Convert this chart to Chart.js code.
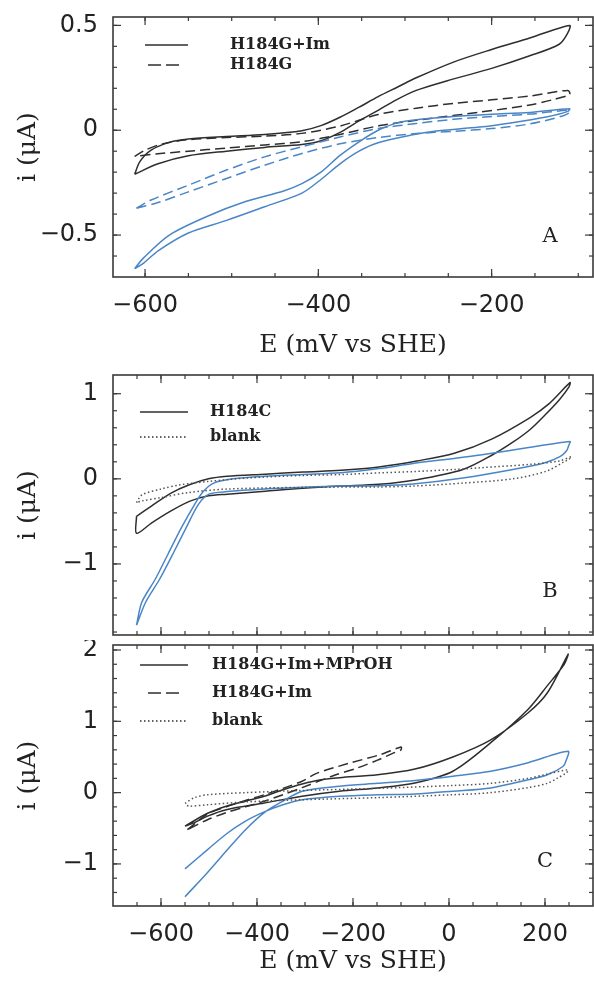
<!DOCTYPE html>
<html>
<head>
<meta charset="utf-8">
<script src="https://cdn.jsdelivr.net/npm/chart.js@4.4.1/dist/chart.umd.min.js"></script>
<style>
  body { margin: 0; background: #fff; }
  canvas { position: absolute; left: 0; }
</style>
</head>
<body>
<canvas id="chartA" width="594" height="360" style="top:0"></canvas>
<canvas id="chartB" width="594" height="280" style="top:360px"></canvas>
<canvas id="chartC" width="594" height="341" style="top:640px"></canvas>
<script>
// ---- tick labels ----
const xTicksA = [-600, -400, -200];
const yTicksA = [-0.5, 0, 0.5];
const xTicksBC = [-600, -400, -200, 0, 200];
const yTicksB = [-1, 0, 1];
const yTicksC = [-1, 0, 1, 2];

// ---- legend labels ----
const legendA = ['H184G+Im', 'H184G'];
const legendB = ['H184C', 'blank'];
const legendC = ['H184G+Im+MPrOH', 'H184G+Im', 'blank'];

// ---- panel A (E in mV, i in uA), each loop: forward scan then return ----
const aImE = [-612,-606,-593,-572,-550,-506,-462,-419,-397,-375,-353,-331,-309,-287,-244,-200,-156,-110,
  -112,-122,-156,-200,-252,-287,-310,-331,-353,-375,-397,-419,-462,-506,-550,-585,-612];
const aImI = [-0.21,-0.15,-0.095,-0.058,-0.042,-0.03,-0.02,-0.002,0.022,0.062,0.11,0.16,0.205,0.25,0.325,0.385,0.44,0.5,
  0.465,0.41,0.355,0.295,0.235,0.19,0.145,0.095,0.045,-0.01,-0.05,-0.068,-0.082,-0.1,-0.122,-0.16,-0.21];

const aGE = [-612,-600,-580,-550,-506,-462,-419,-375,-331,-287,-244,-200,-156,-112,
  -110,-130,-156,-214,-271,-329,-375,-419,-462,-506,-550,-585,-612];
const aGI = [-0.125,-0.095,-0.065,-0.045,-0.035,-0.028,-0.015,0.02,0.075,0.105,0.128,0.145,0.163,0.19,
  0.17,0.145,0.12,0.086,0.056,0.022,-0.02,-0.055,-0.07,-0.085,-0.1,-0.112,-0.125];

const aImBlueE = [-612,-602,-572,-528,-484,-440,-419,-397,-375,-353,-331,-309,-287,-244,-200,-156,-110,
  -112,-137,-178,-214,-266,-291,-331,-353,-375,-397,-419,-462,-506,-550,-585,-602,-612];
const aImBlueI = [-0.66,-0.61,-0.5,-0.41,-0.34,-0.29,-0.255,-0.2,-0.12,-0.055,0.0,0.035,0.05,0.065,0.076,0.085,0.103,
  0.09,0.063,0.035,0.015,-0.005,-0.022,-0.06,-0.1,-0.16,-0.235,-0.3,-0.365,-0.43,-0.49,-0.575,-0.635,-0.66];

const aGBlueE = [-610,-593,-550,-506,-462,-419,-375,-331,-287,-244,-200,-156,-112,
  -110,-118,-156,-200,-244,-287,-331,-375,-419,-462,-506,-550,-585,-610];
const aGBlueI = [-0.372,-0.333,-0.262,-0.19,-0.127,-0.079,-0.032,0.008,0.032,0.052,0.065,0.077,0.095,
  0.085,0.068,0.03,0.008,-0.005,-0.016,-0.035,-0.065,-0.111,-0.167,-0.23,-0.294,-0.345,-0.372];

// ---- panel B ----
const bCE = [-651,-620,-580,-541,-501,-462,-383,-304,-225,-146,-67,11,90,169,208,252,
  250,230,200,169,133,90,29,-67,-146,-225,-304,-383,-462,-501,-541,-580,-620,-651,-651];
const bCI = [-0.44,-0.32,-0.17,-0.07,0.0,0.03,0.055,0.08,0.1,0.14,0.21,0.3,0.47,0.72,0.88,1.13,
  1.08,0.93,0.75,0.58,0.43,0.28,0.11,-0.01,-0.065,-0.085,-0.11,-0.145,-0.18,-0.2,-0.265,-0.38,-0.52,-0.64,-0.44];

const bCBlueE = [-651,-640,-612,-585,-558,-532,-512,-490,-450,-383,-304,-225,-146,-75,11,65,169,252,
  250,245,231,200,133,29,-75,-146,-225,-304,-383,-462,-500,-522,-548,-575,-603,-632,-651];
const bCBlueI = [-1.72,-1.45,-1.18,-0.88,-0.58,-0.32,-0.15,-0.05,0.0,0.03,0.05,0.07,0.12,0.18,0.24,0.28,0.37,0.44,
  0.4,0.33,0.26,0.19,0.11,0.01,-0.06,-0.08,-0.085,-0.1,-0.12,-0.15,-0.18,-0.3,-0.58,-0.88,-1.18,-1.45,-1.72];

const bBlankE = [-651,-640,-600,-560,-500,-420,-304,-225,-144,-75,11,65,169,230,255,
  250,240,203,133,29,-75,-144,-304,-462,-541,-600,-640,-651];
const bBlankI = [-0.28,-0.19,-0.12,-0.07,-0.03,0.01,0.04,0.05,0.07,0.085,0.11,0.13,0.17,0.21,0.26,
  0.23,0.2,0.09,0.0,-0.05,-0.085,-0.095,-0.1,-0.12,-0.16,-0.22,-0.26,-0.28];

// ---- panel C ----
const cMpE = [-550,-503,-464,-424,-385,-346,-306,-267,-228,-149,-71,8,87,165,205,248,
  240,205,165,87,8,-71,-149,-228,-306,-385,-464,-503,-530,-550];
const cMpI = [-0.47,-0.29,-0.19,-0.12,-0.05,0.04,0.12,0.18,0.21,0.25,0.33,0.5,0.74,1.12,1.4,1.94,
  1.8,1.5,1.17,0.7,0.3,0.136,0.066,0.02,-0.05,-0.146,-0.24,-0.33,-0.42,-0.47];

const cImE = [-545,-503,-464,-424,-385,-346,-306,-276,-209,-142,-100,
  -100,-114,-149,-189,-244,-306,-346,-385,-424,-464,-503,-545];
const cImI = [-0.52,-0.3,-0.2,-0.11,-0.03,0.06,0.16,0.27,0.41,0.535,0.64,
  0.6,0.56,0.455,0.35,0.23,0.07,-0.03,-0.12,-0.2,-0.28,-0.38,-0.52];

const cMpBlueE = [-550,-503,-464,-424,-385,-346,-306,-228,-149,-71,8,87,165,248,
  244,238,205,165,87,8,-71,-149,-228,-306,-346,-385,-424,-464,-503,-550];
const cMpBlueI = [-1.46,-1.12,-0.82,-0.52,-0.28,-0.12,0.02,0.09,0.13,0.17,0.23,0.3,0.42,0.58,
  0.45,0.37,0.25,0.18,0.066,0.02,-0.02,-0.03,-0.05,-0.1,-0.17,-0.27,-0.4,-0.58,-0.8,-1.07];

const cBlankE = [-550,-530,-503,-424,-306,-149,8,87,165,205,248,
  245,225,205,165,87,8,-149,-306,-424,-503,-540,-550];
const cBlankI = [-0.15,-0.07,-0.03,0.0,0.03,0.06,0.1,0.13,0.2,0.26,0.32,
  0.28,0.2,0.13,0.07,0.0,-0.03,-0.07,-0.1,-0.13,-0.17,-0.19,-0.17];

const BLACK = '#2e2e2e';
const BLUE = '#4a86c6';
const DASH = [10, 5];
const DOT = [1.5, 2.5];
const TEXT = '#222';

function pts(e, i) {
  return e.map((v, k) => ({ x: v, y: i[k] }));
}

function fmt(v) {
  return v < 0 ? '\u2212' + Math.abs(v) : String(v);
}

function line(ctx, x1, y1, x2, y2) {
  ctx.beginPath();
  ctx.moveTo(x1, y1);
  ctx.lineTo(x2, y2);
  ctx.stroke();
}

function steps(min, max, step) {
  const out = [];
  for (let v = Math.ceil(min / step) * step; v <= max + 1e-9; v += step) out.push(Math.round(v * 1000) / 1000);
  return out;
}

// no extra room for edge labels: the box is placed by the layout padding only
function noPad(s) {
  s.paddingTop = 0;
  s.paddingBottom = 0;
  s.paddingLeft = 0;
  s.paddingRight = 0;
}

// box + inward ticks on all four sides
const framePlugin = {
  id: 'frame',
  afterDatasetsDraw(chart, args, o) {
    const { ctx, chartArea: a, scales: { x, y } } = chart;
    ctx.save();
    ctx.strokeStyle = '#3a3a3a';
    ctx.lineWidth = 1.6;
    ctx.strokeRect(a.left, a.top, a.width, a.height);
    ctx.lineWidth = 1.2;
    const xt = (vals, len) => vals.forEach(v => {
      const px = x.getPixelForValue(v);
      if (px <= a.left + 2 || px >= a.right - 2) return;
      line(ctx, px, a.top, px, a.top + len);
      line(ctx, px, a.bottom, px, a.bottom - len);
    });
    const yt = (vals, len) => vals.forEach(v => {
      const py = y.getPixelForValue(v);
      if (py <= a.top + 2 || py >= a.bottom - 2) return;
      line(ctx, a.left, py, a.left + len, py);
      line(ctx, a.right, py, a.right - len, py);
    });
    xt(steps(x.min, x.max, o.xMinor), 4);
    xt(steps(x.min, x.max, o.xMajor), 8);
    yt(steps(y.min, y.max, o.yMinor), 4);
    yt(steps(y.min, y.max, o.yMajor), 8);
    ctx.restore();
  }
};

// legend inside the box + panel letter
const keyPlugin = {
  id: 'key',
  afterDraw(chart, args, o) {
    const ctx = chart.ctx;
    ctx.save();
    o.items.forEach((it, k) => {
      const yy = o.y + k * o.row;
      ctx.strokeStyle = BLACK;
      ctx.lineWidth = 1.6;
      ctx.setLineDash(it.dash);
      line(ctx, it.x0, yy, it.x1, yy);
      ctx.setLineDash([]);
      ctx.fillStyle = TEXT;
      ctx.font = 'bold 16px "DejaVu Serif"';
      ctx.textBaseline = 'middle';
      ctx.fillText(it.label, o.tx, yy);
    });
    ctx.font = '21px "DejaVu Serif"';
    ctx.textAlign = 'center';
    ctx.textBaseline = 'middle';
    ctx.fillStyle = TEXT;
    ctx.fillText(o.letter, o.lx, o.ly);
    ctx.restore();
  }
};

function curve(e, i, color, dash) {
  return {
    data: pts(e, i),
    showLine: true,
    borderColor: color,
    borderDash: dash,
    borderWidth: 1.5,
    pointRadius: 0,
    tension: 0.3,
    fill: false
  };
}

function makeChart(id, p) {
  return new Chart(document.getElementById(id), {
    type: 'scatter',
    data: { datasets: p.curves },
    options: {
      responsive: false,
      animation: false,
      layout: { padding: p.pad },
      plugins: {
        legend: { display: false },
        tooltip: { enabled: false },
        frame: { xMajor: 200, xMinor: 50, yMajor: p.yMajor, yMinor: p.yMinor },
        key: p.key
      },
      scales: {
        x: {
          type: 'linear',
          min: p.xMin,
          max: p.xMax,
          display: p.showX,
          grid: { display: false, drawTicks: false },
          border: { display: false },
          ticks: {
            autoSkip: false,
            maxRotation: 0,
            padding: 14,
            color: TEXT,
            font: { family: 'DejaVu Sans', size: 24 },
            callback: v => fmt(v)
          },
          afterBuildTicks: s => { s.ticks = p.xTicks.map(v => ({ value: v })); },
          afterFit: s => { s.height = p.xHeight; noPad(s); },
          title: {
            display: true,
            text: 'E (mV vs SHE)',
            color: TEXT,
            font: { family: 'DejaVu Serif', size: 25 },
            padding: { top: 0, bottom: p.xTitlePad }
          }
        },
        y: {
          type: 'linear',
          min: p.yMin,
          max: p.yMax,
          grid: { display: false, drawTicks: false },
          border: { display: false },
          ticks: {
            autoSkip: false,
            padding: 15,
            color: TEXT,
            font: { family: 'DejaVu Sans', size: 24 },
            callback: v => fmt(v)
          },
          afterBuildTicks: s => { s.ticks = p.yTicks.map(v => ({ value: v })); },
          afterFit: s => { s.width = 113; noPad(s); },
          title: {
            display: true,
            text: 'i (\u03bcA)',
            color: TEXT,
            font: { family: 'DejaVu Serif', size: 25 },
            padding: { top: 13, bottom: 0 }
          }
        }
      }
    },
    plugins: [framePlugin, keyPlugin]
  });
}

makeChart('chartA', {
  xMin: -637, xMax: -83, yMin: -0.7, yMax: 0.54,
  xTicks: xTicksA, yTicks: yTicksA, yMajor: 0.5, yMinor: 0.1,
  showX: true, xHeight: 83, xTitlePad: 0,
  pad: { top: 17, right: 1, left: 0, bottom: 0 },
  curves: [
    curve(aImBlueE, aImBlueI, BLUE, []),
    curve(aGBlueE, aGBlueI, BLUE, DASH),
    curve(aGE, aGI, BLACK, DASH),
    curve(aImE, aImI, BLACK, [])
  ],
  key: {
    y: 45, row: 20, tx: 230, letter: 'A', lx: 550, ly: 237,
    items: [
      { label: legendA[0], dash: [], x0: 145, x1: 188 },
      { label: legendA[1], dash: [13, 5], x0: 148, x1: 181 }
    ]
  }
});

makeChart('chartB', {
  xMin: -700, xMax: 300, yMin: -1.835, yMax: 1.22,
  xTicks: xTicksBC, yTicks: yTicksB, yMajor: 1, yMinor: 0.2,
  showX: false, xHeight: 0, xTitlePad: 0,
  pad: { top: 15, right: 1, left: 0, bottom: 5 },
  curves: [
    curve(bBlankE, bBlankI, '#555', DOT),
    curve(bCBlueE, bCBlueI, BLUE, []),
    curve(bCE, bCI, BLACK, [])
  ],
  key: {
    y: 52, row: 25, tx: 210, letter: 'B', lx: 550, ly: 232,
    items: [
      { label: legendB[0], dash: [], x0: 140, x1: 188 },
      { label: legendB[1], dash: DOT, x0: 140, x1: 188 }
    ]
  }
});

makeChart('chartC', {
  xMin: -700, xMax: 300, yMin: -1.59, yMax: 2.07,
  xTicks: xTicksBC, yTicks: yTicksC, yMajor: 1, yMinor: 0.2,
  showX: true, xHeight: 75, xTitlePad: 5,
  pad: { top: 5, right: 1, left: 0, bottom: 0 },
  curves: [
    curve(cBlankE, cBlankI, '#555', DOT),
    curve(cMpBlueE, cMpBlueI, BLUE, []),
    curve(cImE, cImI, BLACK, DASH),
    curve(cMpE, cMpI, BLACK, [])
  ],
  key: {
    y: 25, row: 28, tx: 212, letter: 'C', lx: 545, ly: 222,
    items: [
      { label: legendC[0], dash: [], x0: 140, x1: 188 },
      { label: legendC[1], dash: [13, 5], x0: 148, x1: 181 },
      { label: legendC[2], dash: DOT, x0: 140, x1: 188 }
    ]
  }
});
</script>
</body>
</html>
